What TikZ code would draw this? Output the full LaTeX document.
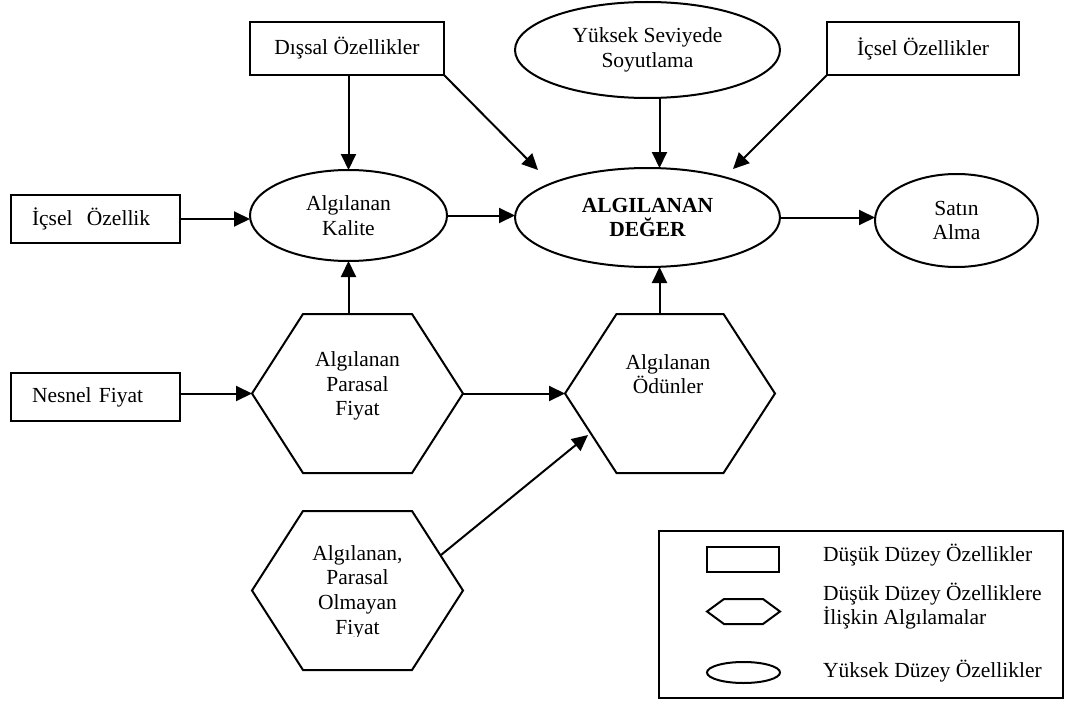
\documentclass[tikz,border=0pt]{standalone}
\usepackage{fontspec}
\setmainfont{Liberation Serif}
\usetikzlibrary{shapes.geometric,arrows.meta}

% hexagon outline drawn over a plain rectangular node: #1 node name, #2 chamfer width
\newcommand\hexoutline[2]{%
  \draw[shapeline] (#1.west) -- ([xshift=#2]#1.north west) -- ([xshift=-#2]#1.north east)
    -- (#1.east) -- ([xshift=-#2]#1.south east) -- ([xshift=#2]#1.south west) -- cycle;}

\tikzset{
  txt/.style={font=\fontsize{21.5}{24.7}\selectfont, align=center, inner sep=0pt},
  shapeline/.style={line width=2pt, line join=miter},
  lowbox/.style={txt, shapeline, draw, rectangle, outer sep=0pt},
  leftbox/.style={lowbox, align=left, inner xsep=21pt, text width=127pt},
  highell/.style={txt, shapeline, draw, ellipse, outer sep=0pt},
  hexa/.style={rectangle, draw=none, inner sep=0pt, outer sep=0pt},
  arr/.style={line width=2pt, -{Triangle[length=16pt,width=15pt]}},
}

\begin{document}
\begin{tikzpicture}[x=1pt,y=-1pt]
\useasboundingbox (0,0) rectangle (1066,701);

% low-level attributes
\node[lowbox, minimum width=194pt, minimum height=53pt] (dis) at (347,48.5) {Dışsal Özellikler};
\node[lowbox, minimum width=192pt, minimum height=53pt] (ic) at (923,48.5) {İçsel Özellikler};
\node[leftbox, minimum height=48pt] (ico) at (95.5,219) {İçsel\ \ Özellik};
\node[leftbox, minimum height=48pt] (nes) at (95.5,397) {Nesnel Fiyat};

% high-level attributes
\node[highell, minimum width=265pt, minimum height=96pt] (yuk) at (647.5,50) {Yüksek Seviyede\\Soyutlama};
\node[highell, minimum width=197pt, minimum height=91pt] (kal) at (348.5,215.5) {Algılanan\\Kalite};
\node[highell, minimum width=265pt, minimum height=99pt, font=\fontsize{21.5}{24.7}\selectfont\bfseries] (deg) at (647.5,217.5) {ALGILANAN\\DEĞER};
\node[highell, minimum width=163pt, minimum height=93pt] (sat) at (956.5,220.5) {Satın\\Alma};

% perceptions of low-level attributes
\node[hexa, minimum width=211pt, minimum height=159pt] (pf) at (357.5,393.5) {};
\hexoutline{pf}{51pt}
\node[txt] (pft) at (357.5,386) {Algılanan\\Parasal\\Fiyat};

\node[hexa, minimum width=210pt, minimum height=159pt] (od) at (670,393.5) {};
\hexoutline{od}{51.5pt}
\node[txt] (odt) at (668,374) {Algılanan\\Ödünler};

\node[hexa, minimum width=211pt, minimum height=159pt] (npf) at (357.5,590.5) {};
\hexoutline{npf}{51pt}
\begin{scope}
  \clip (250,500) rectangle (470,636);
  \node[txt] (npft) at (357.5,592) {Algılanan,\\Parasal\\Olmayan\\Fiyat};
\end{scope}

% free ends of the slanted connectors
\coordinate (vx) at (659.5,0);
\coordinate (degL) at (538,170);
\coordinate (degR) at (733,169);
\coordinate (npfout) at (441,555);
\coordinate (odin) at (588,435);

% connectors
\draw[arr] (dis.south -| kal.north) -- (kal.north);
\draw[arr] (dis.south east) -- (degL);
\draw[arr] (yuk.south -| vx) -- (deg.north -| vx);
\draw[arr] (ic.south west) -- (degR);
\draw[arr] (ico.east) -- (ico.east -| kal.west);
\draw[arr] (kal.east) -- (kal.east -| deg.west);
\draw[arr] (deg.east) -- (deg.east -| sat.west);
\draw[arr] (pf.north -| kal.south) -- (kal.south);
\draw[arr] (od.north -| vx) -- (deg.south -| vx);
\draw[arr] (pf.west -| nes.east) -- (pf.west);
\draw[arr] (pf.east) -- (od.west);
\draw[arr] (npfout) -- (odin);

% legend
\node[rectangle, draw, shapeline, inner sep=0pt, outer sep=0pt, minimum width=404pt, minimum height=167pt] (leg) at (861,614.5) {};
\node[rectangle, draw, shapeline, inner sep=0pt, minimum width=72pt, minimum height=25pt] (legbox) at (743,559.5) {};
\node[hexa, minimum width=73pt, minimum height=25pt] (leghex) at (743.5,611.5) {};
\hexoutline{leghex}{17pt}
\node[ellipse, draw, shapeline, inner sep=0pt, minimum width=73pt, minimum height=21pt] (legell) at (743.5,672.5) {};
\node[txt, anchor=west, align=left] (legt1) at (823,555) {Düşük Düzey Özellikler};
\node[txt, anchor=west, align=left] (legt2) at (823,606) {Düşük Düzey Özelliklere\\İlişkin Algılamalar};
\node[txt, anchor=west, align=left] (legt3) at (823,671) {Yüksek Düzey Özellikler};
\end{tikzpicture}
\end{document}
